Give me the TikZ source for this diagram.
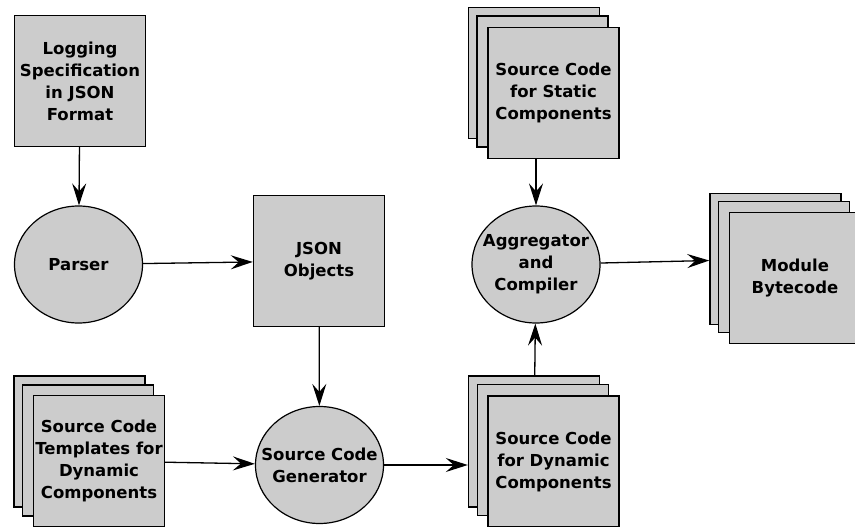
\documentclass[tikz,border=0pt]{standalone}
\usepackage{fontspec}
\setmainfont{DejaVu Sans}
\usetikzlibrary{arrows.meta,shapes.geometric}
\definecolor{boxgray}{HTML}{CCCCCC}

\begin{document}
\begin{tikzpicture}[x=1pt,y=-1pt,>={Stealth[length=22pt,width=14pt,inset=8pt]},
	every node/.style={font=\fontsize{16.5}{22}\selectfont\bfseries,align=center},
	doc/.style={draw,fill=boxgray,line width=1.4pt,minimum size=131pt,inner sep=0pt},
	blob/.style={ellipse,draw,fill=boxgray,line width=1.2pt,inner sep=0pt,minimum width=128pt,minimum height=117pt},
	flow/.style={->,line width=1.3pt}]
	
	\useasboundingbox (0,0) rectangle (855,527);
	
	% single boxes and ellipses
	\node[doc]  (spec)   at (80,81)      {Logging\\Specification\\in JSON\\Format};
	\node[blob,label={center:Parser}] (parser) at (78.5,264.5) {};
	\node[doc]  (json)   at (319,261)    {JSON\\Objects};
	\node[blob,label={center:Source Code\\Generator}] (gen) at (319.5,465) {};
	\node[blob,label={center:Aggregator\\and\\Compiler}] (agg) at (536,264.5) {};
	
	% stacks: back, middle, front
	\node[doc]  (tplC)   at (79.5,441.5) {};
	\node[doc]  (tplB)   at (88,450.5)   {};
	\node[doc]  (tplA)   at (99,461)     {Source Code\\Templates for\\Dynamic\\Components};
	
	\node[doc]  (staC)   at (534,73)     {};
	\node[doc]  (staB)   at (542.5,81.5) {};
	\node[doc]  (staA)   at (553.5,93)   {Source Code\\for Static\\Components};
	
	\node[doc]  (dynC)   at (534,441.5)  {};
	\node[doc]  (dynB)   at (543,450)    {};
	\node[doc]  (dynA)   at (553.5,461.5) {Source Code\\for Dynamic\\Components};
	
	\node[doc]  (modC)   at (775.5,259)  {};
	\node[doc]  (modB)   at (784,267)    {};
	\node[doc]  (modA)   at (795,278)    {Module\\Bytecode};
	
	% arrows
	\draw[flow] (spec) -- (parser);
	\draw[flow] (parser) -- (json);
	\draw[flow] (json) -- (gen);
	\draw[flow] (tplA) -- (gen);
	\draw[flow] (gen.east) -- (gen.east -| dynC.west);
	\draw[flow] (dynC) -- (agg);
	\draw[flow] (staA.south -| agg) -- (agg);
	\draw[flow] (agg) -- (modC);
\end{tikzpicture}
\end{document}
